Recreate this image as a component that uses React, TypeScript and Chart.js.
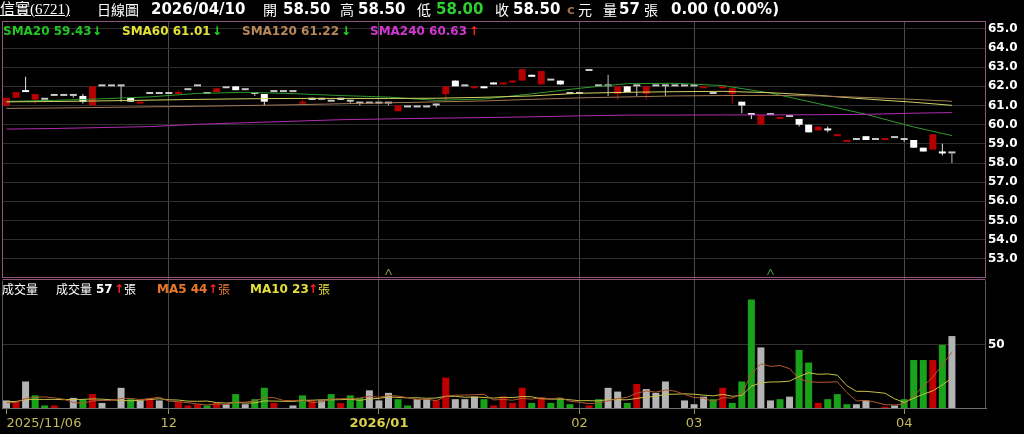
import { useEffect, useRef } from 'react';
import { Chart, registerables } from 'chart.js';

Chart.register(...registerables);

// ---------------- data ----------------
const openP = [
  61.0, 61.4, 61.8, 61.3, 61.3, 61.5, 61.5, 61.5, 61.5, 61.0,
  62.0, 62.0, 62.0, 61.4, 61.1, 61.6, 61.6, 61.6, 61.6, 61.8,
  62.0, 61.6, 61.7, 61.9, 62.0, 61.8, 61.6, 61.6, 61.7, 61.7,
  61.7, 61.1, 61.4, 61.3, 61.2, 61.4, 61.2, 61.1, 61.1, 61.1,
  61.1, 60.7, 60.9, 60.9, 60.9, 61.0, 61.6, 62.3, 62.0, 61.9,
  62.0, 62.2, 62.1, 62.2, 62.3, 62.6, 62.1, 62.3, 62.3, 61.6,
  61.6, 62.8, 62.0, 62.0, 61.6, 62.0, 62.0, 61.6, 62.0, 62.0,
  62.0, 62.0, 62.0, 61.9, 61.6, 61.9, 61.6, 61.2, 60.6, 60.0,
  60.5, 60.3, 60.4, 60.3, 60.0, 59.7, 59.8, 59.4, 59.1, 59.2,
  59.4, 59.2, 59.2, 59.3, 59.2, 59.2, 58.8, 58.7, 58.6, 58.5,
];
const highP = [
  61.4, 61.7, 62.5, 61.6, 61.3, 61.5, 61.5, 61.6, 61.6, 62.0,
  62.0, 62.0, 62.0, 61.4, 61.2, 61.6, 61.6, 61.6, 61.8, 61.8,
  62.0, 61.6, 61.9, 61.9, 62.0, 61.8, 61.7, 61.6, 61.7, 61.7,
  61.7, 61.3, 61.4, 61.4, 61.2, 61.4, 61.3, 61.1, 61.1, 61.1,
  61.1, 61.0, 60.9, 60.9, 60.9, 61.1, 62.0, 62.3, 62.0, 62.0,
  62.0, 62.2, 62.2, 62.3, 62.9, 62.6, 62.8, 62.3, 62.3, 61.6,
  61.6, 62.8, 62.0, 62.6, 62.0, 62.0, 62.0, 62.0, 62.0, 62.0,
  62.0, 62.0, 62.0, 62.0, 61.6, 62.0, 61.9, 61.2, 60.6, 60.5,
  60.5, 60.4, 60.4, 60.3, 60.0, 59.9, 59.9, 59.5, 59.2, 59.2,
  59.4, 59.2, 59.3, 59.3, 59.3, 59.2, 58.8, 59.5, 59.0, 58.5,
];
const lowP = [
  61.0, 61.4, 61.7, 61.1, 61.3, 61.5, 61.5, 61.4, 61.1, 61.0,
  62.0, 62.0, 61.2, 61.2, 61.1, 61.6, 61.6, 61.6, 61.6, 61.8,
  62.0, 61.6, 61.7, 61.9, 61.8, 61.8, 61.5, 61.0, 61.7, 61.7,
  61.7, 61.1, 61.3, 61.3, 61.2, 61.3, 61.1, 61.0, 61.1, 61.1,
  61.0, 60.7, 60.9, 60.9, 60.9, 60.9, 61.2, 62.0, 62.0, 61.9,
  61.9, 62.1, 62.1, 62.2, 62.3, 62.5, 62.1, 62.3, 62.1, 61.6,
  61.6, 62.8, 62.0, 61.5, 61.3, 61.7, 61.5, 61.3, 62.0, 61.5,
  62.0, 62.0, 62.0, 61.9, 61.6, 61.9, 61.1, 60.6, 60.3, 60.0,
  60.5, 60.3, 60.4, 59.9, 59.6, 59.7, 59.6, 59.4, 59.1, 59.2,
  59.2, 59.2, 59.2, 59.3, 59.1, 58.8, 58.6, 58.7, 58.4, 58.0,
];
const closeP = [
  61.4, 61.7, 61.7, 61.6, 61.3, 61.5, 61.5, 61.5, 61.2, 62.0,
  62.0, 62.0, 62.0, 61.2, 61.2, 61.6, 61.6, 61.6, 61.7, 61.8,
  62.0, 61.6, 61.9, 61.9, 61.8, 61.8, 61.6, 61.2, 61.7, 61.7,
  61.7, 61.2, 61.3, 61.3, 61.2, 61.3, 61.2, 61.1, 61.1, 61.1,
  61.1, 61.0, 60.9, 60.9, 60.9, 61.0, 62.0, 62.0, 62.0, 62.0,
  61.9, 62.1, 62.2, 62.3, 62.9, 62.5, 62.8, 62.3, 62.1, 61.6,
  61.6, 62.8, 62.0, 62.0, 62.0, 61.7, 62.0, 62.0, 62.0, 62.0,
  62.0, 62.0, 62.0, 62.0, 61.6, 62.0, 61.9, 61.0, 60.5, 60.5,
  60.5, 60.4, 60.4, 60.0, 59.6, 59.9, 59.7, 59.5, 59.2, 59.2,
  59.2, 59.2, 59.3, 59.3, 59.2, 58.8, 58.6, 59.5, 58.5, 58.5,
];
const prevClose0 = 61.4;

const volume = [
  6, 5, 21, 10, 2, 2, 0, 8, 7, 11,
  4, 0, 16, 7, 6, 8, 6, 0, 5, 2,
  3, 2, 4, 3, 11, 3, 7, 16, 4, 0,
  2, 10, 6, 6, 11, 4, 10, 8, 14, 6,
  12, 7, 2, 7, 7, 6, 24, 7, 7, 9,
  7, 2, 9, 4, 16, 4, 8, 4, 8, 3,
  0, 2, 7, 16, 13, 4, 19, 15, 12, 21,
  0, 6, 3, 9, 7, 16, 4, 21, 86, 48,
  6, 7, 9, 46, 36, 4, 7, 11, 3, 3,
  6, 0, 1, 2, 7, 38, 38, 38, 50, 57,
];
const volMA5 = [
  4.0, 4.5, 7.5, 8.5, 8.8, 8.0, 7.0, 4.4, 3.8, 5.6,
  6.0, 6.0, 7.6, 7.6, 6.6, 7.4, 8.6, 5.4, 5.0, 4.2,
  3.2, 2.4, 3.2, 2.8, 4.6, 4.6, 5.6, 8.0, 8.2, 6.0,
  5.8, 6.4, 4.4, 4.8, 7.0, 7.4, 7.4, 7.8, 9.4, 8.4,
  10.0, 9.4, 8.2, 6.8, 7.0, 5.8, 9.2, 10.2, 10.2, 10.6,
  10.8, 6.4, 6.8, 6.2, 7.6, 7.0, 8.2, 7.2, 8.0, 5.4,
  4.6, 3.4, 4.0, 5.6, 7.6, 8.4, 11.8, 13.4, 12.6, 14.2,
  13.4, 10.8, 8.4, 7.8, 5.0, 8.2, 7.8, 11.4, 26.8, 35.0,
  33.0, 33.6, 31.2, 23.2, 20.8, 20.4, 20.4, 20.8, 12.2, 5.6,
  6.0, 4.6, 2.6, 2.4, 3.2, 9.6, 17.2, 24.6, 34.2, 44.2,
];
const volMA10 = [
  5.0, 5.2, 6.5, 6.8, 6.8, 6.8, 6.6, 6.8, 6.8, 7.2,
  7.0, 6.5, 6.0, 5.7, 6.1, 6.7, 7.3, 6.5, 6.3, 5.4,
  5.3, 5.5, 4.3, 3.9, 4.4, 3.9, 4.0, 5.6, 5.5, 5.3,
  5.2, 6.0, 6.2, 6.5, 6.5, 6.6, 6.9, 6.1, 7.1, 7.7,
  8.7, 8.4, 8.0, 8.1, 7.7, 7.9, 9.3, 9.2, 8.5, 8.8,
  8.3, 7.8, 8.5, 8.2, 9.1, 8.9, 7.3, 7.0, 7.1, 6.5,
  5.8, 5.8, 5.6, 6.8, 6.5, 6.5, 7.6, 8.7, 9.1, 10.9,
  10.9, 11.3, 10.9, 10.2, 9.6, 10.8, 9.3, 9.9, 17.3, 20.0,
  20.6, 20.7, 21.3, 25.0, 27.9, 26.7, 27.0, 26.0, 17.7, 13.2,
  13.2, 12.5, 11.7, 7.3, 4.4, 7.8, 10.9, 13.6, 18.3, 23.7,
];

const smaIdx = [0, 5, 10, 15, 20, 25, 30, 35, 40, 45, 50, 55, 60, 65, 70, 75, 80, 85, 90, 95, 99];
const sma20 = [61.22, 61.27, 61.35, 61.45, 61.63, 61.69, 61.62, 61.52, 61.44, 61.27, 61.34, 61.61, 61.9, 62.14, 62.16, 62.04, 61.65, 61.1, 60.54, 59.88, 59.43];
const sma60 = [61.19, 61.21, 61.24, 61.28, 61.32, 61.35, 61.37, 61.37, 61.37, 61.38, 61.43, 61.5, 61.64, 61.69, 61.72, 61.74, 61.67, 61.53, 61.34, 61.17, 61.01];
const sma120 = [60.85, 60.87, 60.9, 60.93, 60.96, 61.0, 61.04, 61.09, 61.14, 61.19, 61.24, 61.32, 61.4, 61.45, 61.5, 61.52, 61.53, 61.5, 61.42, 61.32, 61.22];
const sma240 = [59.77, 59.8, 59.85, 59.9, 60.02, 60.1, 60.18, 60.26, 60.3, 60.34, 60.37, 60.41, 60.46, 60.5, 60.5, 60.51, 60.51, 60.52, 60.54, 60.6, 60.63];

const xTickIdx = [0, 17, 39, 60, 72, 94];
const xTickLabels = ['2025/11/06', '12', '2026/01', '02', '03', '04'];
const priceTicks = [53, 54, 55, 56, 57, 58, 59, 60, 61, 62, 63, 64, 65];
const volTicks = [50];
const markerIdx = [40, 80];

// ---------------- view settings ----------------
const X_MIN = -0.47;
const X_MAX = 102.57;
const PRICE_MIN = 52.0;
const PRICE_MAX = 65.41;
const VOL_MAX = 103;

const RED = '#b40000';
const GREEN = '#1aa31a';
const GRAY = '#b4b4b4';
const NUM = '"DejaVu Sans", Verdana, sans-serif';
const CJK = '"Noto Sans CJK TC", "Noto Sans CJK SC", sans-serif';

const candleColor = (i: number) =>
  closeP[i] > openP[i] ? RED : closeP[i] < openP[i] ? '#ffffff' : '#c8c8c8';
const wickColor = (i: number) =>
  closeP[i] > openP[i] ? '#c00000' : closeP[i] < openP[i] ? '#e6e6e6' : '#c0c0c0';
const volColor = (i: number) => {
  const prev = i === 0 ? prevClose0 : closeP[i - 1];
  return closeP[i] > prev ? '#c00000' : closeP[i] < prev ? GREEN : GRAY;
};

const markerColors = ['#a8a048', '#4aa048'];

const framePlugin = {
  id: 'frames',
  afterDraw(chart: any) {
    const { ctx, chartArea } = chart;
    const yp = chart.scales.yPrice;
    const yv = chart.scales.yVol;
    const xs = chart.scales.x;
    ctx.save();
    ctx.lineWidth = 1;
    // event markers
    markerIdx.forEach((v, k) => {
      const px = Math.round(xs.getPixelForValue(v)) + 0.5;
      const py = yp.bottom - 5;
      ctx.strokeStyle = markerColors[k % markerColors.length];
      ctx.beginPath();
      ctx.moveTo(px - 3, py + 2);
      ctx.lineTo(px, py - 4);
      ctx.lineTo(px + 3, py + 2);
      ctx.stroke();
    });
    const l = Math.round(chartArea.left) + 0.5;
    const r = Math.round(chartArea.right) - 0.5;
    // price frame
    ctx.strokeStyle = '#8e5479';
    ctx.strokeRect(l, Math.round(yp.top) + 0.5, r - l, Math.round(yp.bottom - yp.top) - 1);
    // volume frame
    const vt = Math.round(yv.top) + 1.5;
    ctx.beginPath();
    ctx.moveTo(l, vt);
    ctx.lineTo(r, vt);
    ctx.stroke();
    ctx.strokeStyle = '#5a5a5a';
    ctx.beginPath();
    ctx.moveTo(l, vt + 1);
    ctx.lineTo(l, yv.bottom);
    ctx.moveTo(r, vt + 1);
    ctx.lineTo(r, yv.bottom);
    ctx.stroke();
    ctx.restore();
  },
};

const idxOf = (arr: number[]) => arr.map((_, i) => i);

function buildConfig(): any {
  const days = idxOf(closeP);
  const line = (label: string, xs: number[], ys: number[], color: string, axis: string) => ({
    type: 'line',
    label,
    data: xs.map((x, k) => ({ x, y: ys[k] })),
    yAxisID: axis,
    borderColor: color,
    borderWidth: 1,
    pointRadius: 0,
    tension: 0,
    order: 0,
  });
  return {
    type: 'bar',
    data: {
      datasets: [
        {
          type: 'bar',
          label: 'wick',
          data: days.map((i) => ({ x: i, y: [lowP[i], highP[i]] })),
          yAxisID: 'yPrice',
          barThickness: 1,
          grouped: false,
          inflateAmount: 0,
          backgroundColor: (c: any) => wickColor(c.dataIndex),
          order: 5,
        },
        {
          type: 'bar',
          label: 'body',
          data: days.map((i) => ({ x: i, y: [openP[i], closeP[i]] })),
          yAxisID: 'yPrice',
          barThickness: 7,
          minBarLength: 2,
          grouped: false,
          inflateAmount: 0,
          backgroundColor: (c: any) => candleColor(c.dataIndex),
          order: 4,
        },
        {
          type: 'bar',
          label: 'volume',
          data: days.map((i) => ({ x: i, y: volume[i] })),
          yAxisID: 'yVol',
          barThickness: 7,
          grouped: false,
          inflateAmount: 0,
          backgroundColor: (c: any) => volColor(c.dataIndex),
          order: 4,
        },
        line('SMA240', smaIdx, sma240, '#b02cb0', 'yPrice'),
        line('SMA120', smaIdx, sma120, '#a27a56', 'yPrice'),
        line('SMA60', smaIdx, sma60, '#d2d266', 'yPrice'),
        line('SMA20', smaIdx, sma20, '#2e9a2e', 'yPrice'),
        line('MA5', days, volMA5, '#b05a30', 'yVol'),
        line('MA10', days, volMA10, '#c8c048', 'yVol'),
      ],
    },
    options: {
      animation: false,
      responsive: false,
      devicePixelRatio: 1,
      events: [],
      layout: { padding: { left: 2, top: 21, right: 0, bottom: 0 } },
      plugins: { legend: { display: false }, tooltip: { enabled: false } },
      scales: {
        x: {
          type: 'linear',
          min: X_MIN,
          max: X_MAX,
          offset: false,
          afterFit: (s: any) => { s.height = 26; },
          afterBuildTicks: (s: any) => {
            s.ticks = xTickIdx.map((v) => ({ value: v })).concat([{ value: X_MAX }]);
          },
          grid: {
            offset: false,
            drawTicks: true,
            tickLength: 6,
            color: (c: any) => (c.index === 0 || c.index >= xTickIdx.length ? 'rgba(0,0,0,0)' : '#4a4a4a'),
            tickColor: (c: any) => (c.index >= xTickIdx.length ? 'rgba(0,0,0,0)' : '#9a9048'),
          },
          border: { display: true, color: '#707070' },
          ticks: {
            autoSkip: false,
            maxRotation: 0,
            align: 'inner',
            padding: 2,
            color: (c: any) => (xTickLabels[c.index] === '2026/01' ? '#dccf48' : '#c4ba5c'),
            font: (c: any) => ({
              family: NUM,
              size: 13,
              weight: xTickLabels[c.index] === '2026/01' ? 'bold' : 'normal',
            }),
            callback: (_v: any, i: number) => (i < xTickLabels.length ? xTickLabels[i] : ''),
          },
        },
        yPrice: {
          type: 'linear',
          position: 'right',
          stack: 'panels',
          stackWeight: 257,
          min: PRICE_MIN,
          max: PRICE_MAX,
          beginAtZero: false,
          afterFit: (s: any) => { s.width = 38; },
          afterBuildTicks: (s: any) => { s.ticks = priceTicks.map((v) => ({ value: v })); },
          grid: { color: '#2e2e2e', drawTicks: false },
          border: { display: false },
          ticks: {
            autoSkip: false,
            padding: 2,
            color: '#ffffff',
            font: { family: NUM, size: 12, weight: 'bold' },
            callback: (v: any) => Number(v).toFixed(1),
          },
        },
        yVol: {
          type: 'linear',
          position: 'right',
          stack: 'panels',
          stackWeight: 130,
          min: 0,
          max: VOL_MAX,
          afterFit: (s: any) => { s.width = 38; },
          afterBuildTicks: (s: any) => { s.ticks = volTicks.map((v) => ({ value: v })); },
          grid: { color: '#333333', drawTicks: false },
          border: { display: false },
          ticks: {
            autoSkip: false,
            padding: 2,
            color: '#ffffff',
            font: { family: NUM, size: 12, weight: 'bold' },
          },
        },
      },
    },
    plugins: [framePlugin],
  };
}

type Seg = { t: string; x: number; c: string; f: string; s: number; b?: boolean; u?: boolean };

const header: Seg[] = [
  { t: '信實(6721)', x: 0, c: '#ffffff', f: '"Liberation Serif", "Noto Sans CJK TC", serif', s: 15, u: true },
  { t: '日線圖', x: 97, c: '#ffffff', f: CJK, s: 14 },
  { t: '2026/04/10', x: 151, c: '#ffffff', f: NUM, s: 15, b: true },
  { t: '開', x: 263, c: '#ffffff', f: CJK, s: 14 },
  { t: '58.50', x: 283, c: '#ffffff', f: NUM, s: 15, b: true },
  { t: '高', x: 340, c: '#ffffff', f: CJK, s: 14 },
  { t: '58.50', x: 358, c: '#ffffff', f: NUM, s: 15, b: true },
  { t: '低', x: 417, c: '#ffffff', f: CJK, s: 14 },
  { t: '58.00', x: 436, c: '#2fcf2f', f: NUM, s: 15, b: true },
  { t: '收', x: 495, c: '#ffffff', f: CJK, s: 14 },
  { t: '58.50', x: 513, c: '#ffffff', f: NUM, s: 15, b: true },
  { t: 'c', x: 567, c: '#a0704a', f: NUM, s: 13, b: true },
  { t: '元', x: 578, c: '#ffffff', f: CJK, s: 14 },
  { t: '量', x: 603, c: '#ffffff', f: CJK, s: 14 },
  { t: '57', x: 619, c: '#ffffff', f: NUM, s: 15, b: true },
  { t: '張', x: 644, c: '#ffffff', f: CJK, s: 14 },
  { t: '0.00 (0.00%)', x: 671, c: '#ffffff', f: NUM, s: 15, b: true },
];

const smaLegend: Seg[] = [
  { t: 'SMA20 59.43', x: 3, c: '#24c424', f: NUM, s: 12, b: true },
  { t: '↓', x: 92, c: '#22dd22', f: NUM, s: 12, b: true },
  { t: 'SMA60 61.01', x: 122, c: '#e2e236', f: NUM, s: 12, b: true },
  { t: '↓', x: 212, c: '#22dd22', f: NUM, s: 12, b: true },
  { t: 'SMA120 61.22', x: 242, c: '#b8885a', f: NUM, s: 12, b: true },
  { t: '↓', x: 341, c: '#22dd22', f: NUM, s: 12, b: true },
  { t: 'SMA240 60.63', x: 370, c: '#d236d2', f: NUM, s: 12, b: true },
  { t: '↑', x: 469, c: '#ff2020', f: NUM, s: 12, b: true },
];

const volLegend: Seg[] = [
  { t: '成交量', x: 2, c: '#ffffff', f: CJK, s: 12 },
  { t: '成交量', x: 56, c: '#ffffff', f: CJK, s: 12 },
  { t: '57', x: 96, c: '#ffffff', f: NUM, s: 12, b: true },
  { t: '↑', x: 114, c: '#ff2020', f: NUM, s: 12, b: true },
  { t: '張', x: 124, c: '#ffffff', f: CJK, s: 12 },
  { t: 'MA5 44', x: 157, c: '#e8782e', f: NUM, s: 12, b: true },
  { t: '↑', x: 208, c: '#ff2020', f: NUM, s: 12, b: true },
  { t: '張', x: 218, c: '#e8782e', f: CJK, s: 12 },
  { t: 'MA10 23', x: 250, c: '#e6de3c', f: NUM, s: 12, b: true },
  { t: '↑', x: 308, c: '#ff2020', f: NUM, s: 12, b: true },
  { t: '張', x: 318, c: '#e6de3c', f: CJK, s: 12 },
];

function Row({ segs, top, h }: { segs: Seg[]; top: number; h: number }) {
  return (
    <>
      {segs.map((s, k) => (
        <span
          key={k}
          style={{
            position: 'absolute',
            left: s.x,
            top,
            height: h,
            lineHeight: `${h}px`,
            whiteSpace: 'nowrap',
            color: s.c,
            fontFamily: s.f,
            fontSize: s.s,
            fontWeight: s.b ? 'bold' : 'normal',
            textDecoration: s.u ? 'underline' : 'none',
          }}
        >
          {s.t}
        </span>
      ))}
    </>
  );
}

export default function App() {
  const ref = useRef<HTMLCanvasElement | null>(null);
  useEffect(() => {
    document.body.style.margin = '0';
    document.body.style.background = '#000';
    if (!ref.current) return;
    Chart.defaults.font.family = NUM;
    const chart = new Chart(ref.current, buildConfig());
    return () => chart.destroy();
  }, []);
  return (
    <div style={{ position: 'relative', width: 1024, height: 434, background: '#000', overflow: 'hidden' }}>
      <canvas
        ref={ref}
        width={1024}
        height={434}
        style={{ position: 'absolute', left: 0, top: 0, width: 1024, height: 434 }}
      />
      <Row segs={header} top={0} h={19} />
      <Row segs={smaLegend} top={23} h={16} />
      <Row segs={volLegend} top={281} h={16} />
    </div>
  );
}
